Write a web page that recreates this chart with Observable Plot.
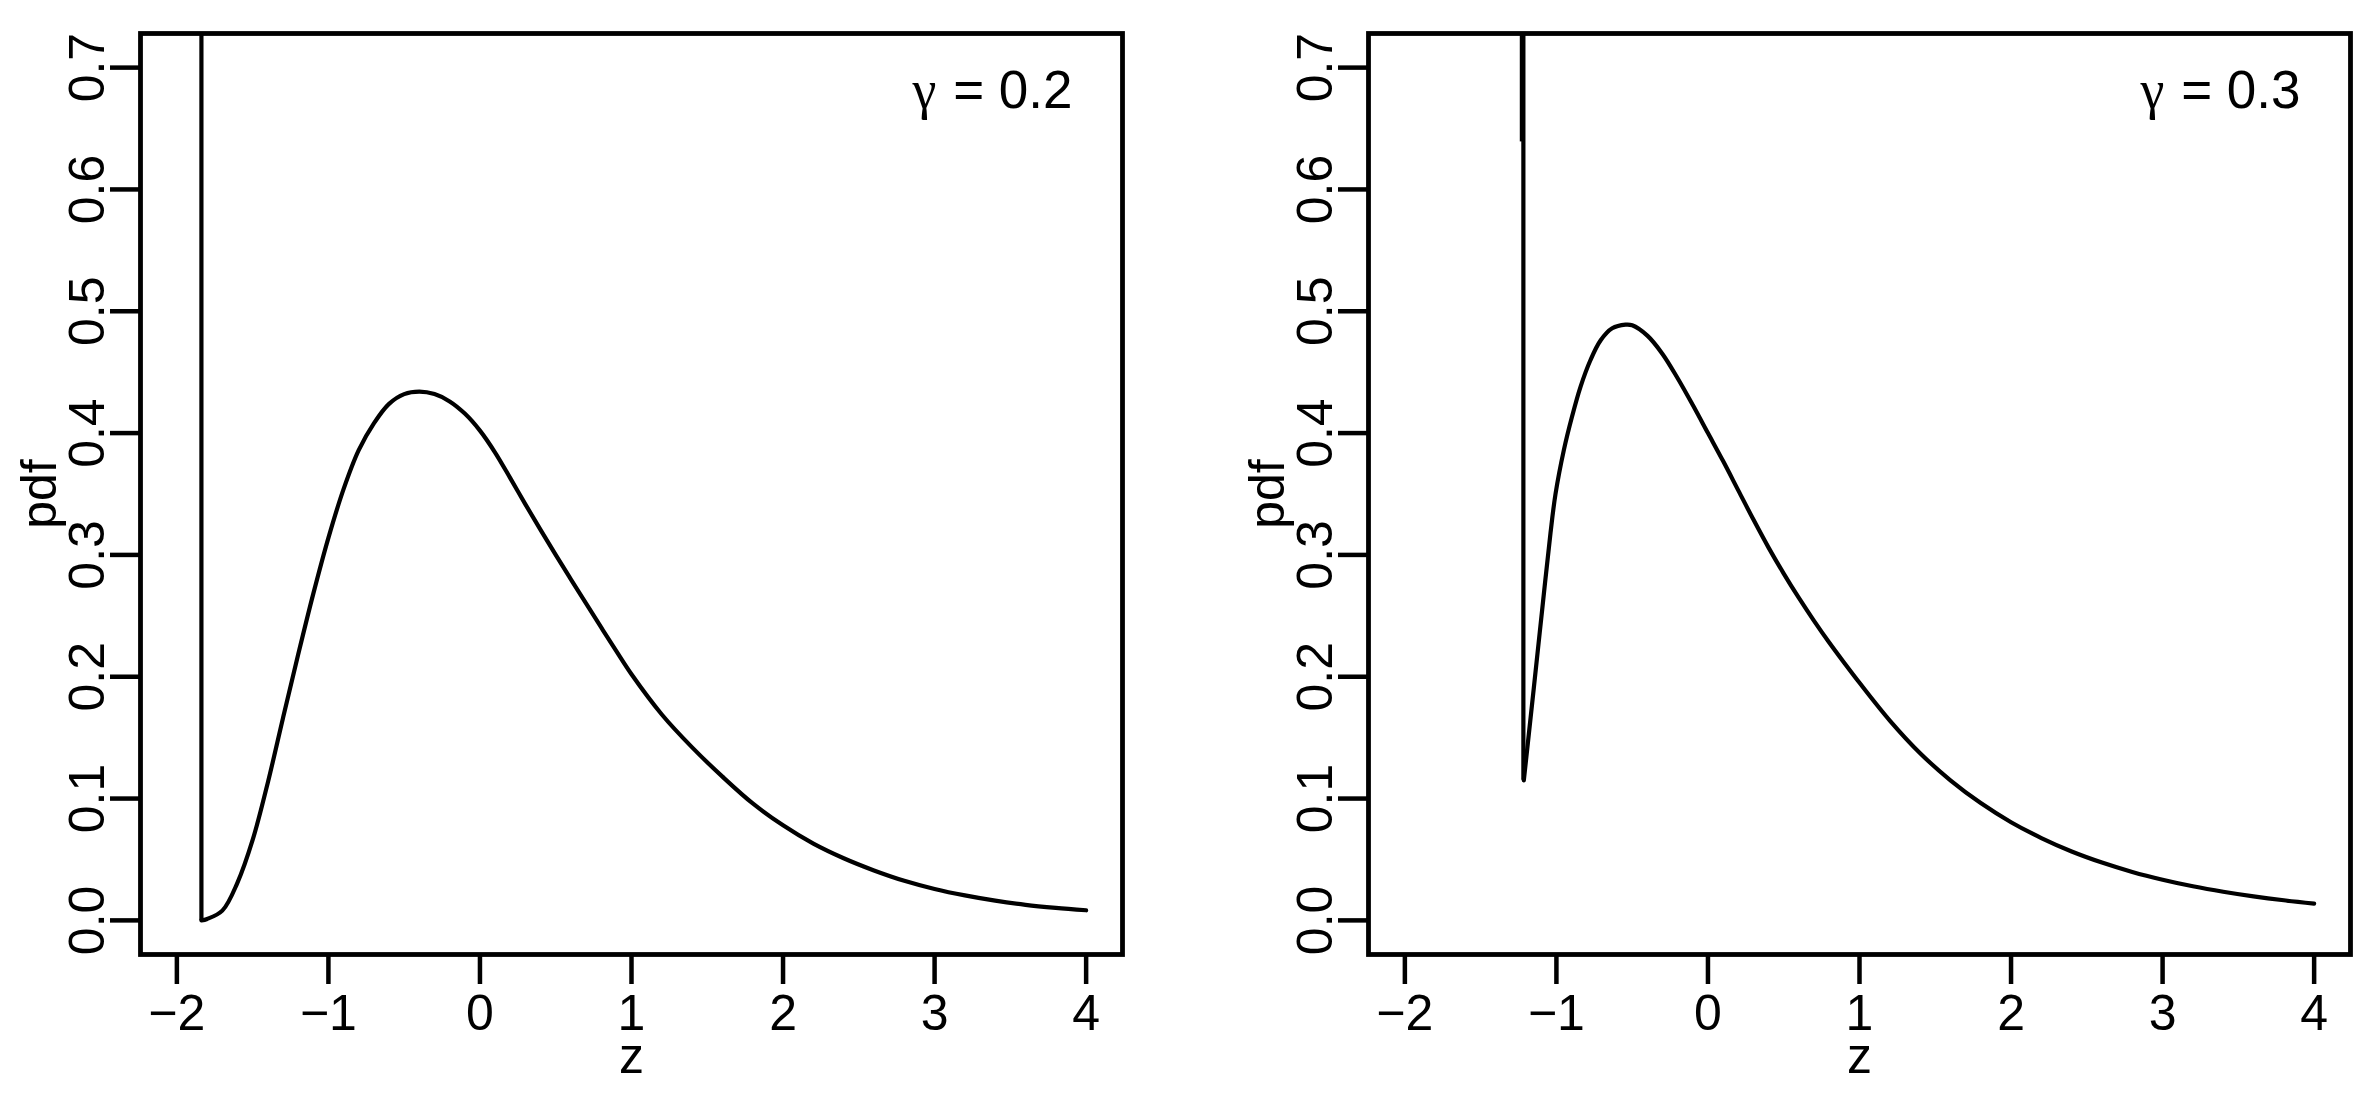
<!DOCTYPE html>
<html>
<head>
<meta charset="utf-8">
<script src="https://cdn.jsdelivr.net/npm/d3@7"></script>
<script src="https://cdn.jsdelivr.net/npm/@observablehq/plot@0.6"></script>
<style>
  html, body { margin: 0; padding: 0; background: #ffffff; }
  #wrap { position: relative; width: 2378px; height: 1114px; overflow: hidden; background: #ffffff; }
  .panel { position: absolute; top: 0; width: 1189px; height: 1114px; }
  .panel svg { display: block; max-width: none !important; }
</style>
</head>
<body>
<div id="wrap">
  <div class="panel" id="panelA" style="left:0px"></div>
  <div class="panel" id="panelB" style="left:1189px"></div>
</div>
<script>
// ---- axis ticks and limits ----
const xTicks = [-2, -1, 0, 1, 2, 3, 4];
const yTicks = [0, 0.1, 0.2, 0.3, 0.4, 0.5, 0.6, 0.7];
const xLim = [-2, 4];
const yLim = [0, 0.7];
const xLabel = "z";
const yLabel = "pdf";

// ---- panel A: gamma = 0.2 ----
const gammaA = 0.2;
const boundA = -1.838;      // vertical line at the lower bound
const boundLowA = 0;        // where the vertical line meets the curve
const zA   = [-1.838, -1.8, -1.7, -1.6, -1.5, -1.4, -1.3, -1.2, -1.1, -1.0, -0.9, -0.8, -0.7, -0.6, -0.5, -0.4, -0.3, -0.2, -0.1, 0.0, 0.1, 0.2, 0.3, 0.4, 0.5, 0.6, 0.7, 0.8, 0.9, 1.0, 1.2, 1.4, 1.6, 1.8, 2.0, 2.2, 2.4, 2.6, 2.8, 3.0, 3.2, 3.4, 3.6, 3.8, 4.0];
const pdfA = [0.0, 0.0012, 0.008, 0.031, 0.066, 0.113, 0.166, 0.218, 0.268, 0.314, 0.354, 0.386, 0.408, 0.424, 0.432, 0.434, 0.432, 0.426, 0.416, 0.402, 0.384, 0.363, 0.3415, 0.3205, 0.300, 0.280, 0.2602, 0.2405, 0.221, 0.202, 0.169, 0.142, 0.118, 0.096, 0.078, 0.063, 0.051, 0.041, 0.0325, 0.0258, 0.0205, 0.0162, 0.0128, 0.0103, 0.0083];

// ---- panel B: gamma = 0.3 ----
const gammaB = 0.3;
const boundB = -1.218;
const boundLowB = 0.115;
const boundOverlapB = 0.639; // upper part where the curve and the bound line overlap
const zB   = [-1.215, -1.149, -1.094, -1.039, -1.006, -0.951, -0.896, -0.841, -0.775, -0.709, -0.632, -0.544, -0.5, -0.4, -0.3, -0.2, -0.1, 0.0, 0.1, 0.2, 0.3, 0.4, 0.5, 0.6, 0.7, 0.8, 0.9, 1.0, 1.2, 1.4, 1.6, 1.8, 2.0, 2.2, 2.4, 2.6, 2.8, 3.0, 3.2, 3.4, 3.6, 3.8, 4.0];
const pdfB = [0.115, 0.191, 0.255, 0.318, 0.350, 0.386, 0.414, 0.438, 0.460, 0.476, 0.486, 0.489, 0.4885, 0.480, 0.465, 0.445, 0.423, 0.400, 0.377, 0.353, 0.329, 0.306, 0.2847, 0.2647, 0.2459, 0.2281, 0.2113, 0.195, 0.164, 0.1372, 0.1150, 0.0963, 0.0806, 0.0676, 0.0566, 0.0475, 0.0398, 0.0334, 0.0280, 0.0235, 0.0197, 0.0165, 0.0138];

// R-style 4% axis extension
function extend([lo, hi]) { const d = (hi - lo) * 0.04; return [lo - d, hi + d]; }
const xDomain = extend(xLim);
const yDomain = extend(yLim);

const FONT = "'Liberation Sans', Arial, Helvetica, sans-serif";
const fmtX = d => (d < 0 ? "\u2212" + Math.abs(d) : String(d));

function panel({z, pdf, bound, boundLow, overlapFrom, gamma, marginLeft, marginRight}) {
  const pts = z.map((v, i) => ({z: v, pdf: pdf[i]}));
  const marks = [
    Plot.axisX(xTicks, {tickSize: 30, tickPadding: 10, fontSize: 50, strokeWidth: 4.5, label: null, tickFormat: fmtX, fill: "black", stroke: "black"}),
    Plot.axisY(yTicks, {tickSize: 30, tickFormat: () => "", label: null, strokeWidth: 4.5, stroke: "black"}),
    Plot.text(yTicks, {y: d => d, text: d => d.toFixed(1), frameAnchor: "left", dx: -37, rotate: -90, lineAnchor: "bottom", textAnchor: "middle", fontSize: 50, fill: "black"}),
    Plot.text([xLabel], {frameAnchor: "bottom", dy: 118, lineAnchor: "bottom", textAnchor: "middle", fontSize: 50, fill: "black"}),
    Plot.text([yLabel], {frameAnchor: "left", dx: -85, rotate: -90, lineAnchor: "bottom", textAnchor: "middle", fontSize: 50, fill: "black"}),
    Plot.ruleX([bound], {x: d => d, y1: boundLow, y2: yDomain[1], stroke: "black", strokeWidth: 4.2}),
  ];
  if (overlapFrom != null) {
    marks.push(Plot.ruleX([bound], {x: d => d, y1: overlapFrom, y2: yDomain[1], dx: -1.5, stroke: "black", strokeWidth: 4.2}));
  }
  marks.push(
    Plot.line(pts, {x: "z", y: "pdf", curve: "catmull-rom", stroke: "black", strokeWidth: 4.2, strokeLinejoin: "round"}),
    Plot.text(["\u03b3"], {frameAnchor: "top-right", dx: -198, dy: 74, lineAnchor: "bottom", textAnchor: "middle", fontSize: 54, fontFamily: "'Liberation Serif', 'DejaVu Serif', serif", fill: "black"}),
    Plot.text([`=\u00a0${gamma.toFixed(1)}`], {frameAnchor: "top-right", dx: -50, dy: 74, lineAnchor: "bottom", textAnchor: "end", fontSize: 53, fill: "black"}),
    Plot.frame({stroke: "black", strokeWidth: 4.8})
  );
  return Plot.plot({
    width: 1189,
    height: 1114,
    marginLeft, marginRight,
    marginTop: 33,
    marginBottom: 160,
    x: {domain: xDomain},
    y: {domain: yDomain},
    style: {fontFamily: FONT, fontSize: "50px", background: "white", color: "black", overflow: "visible"},
    marks
  });
}

document.getElementById("panelA").appendChild(panel({
  z: zA, pdf: pdfA, bound: boundA, boundLow: boundLowA, overlapFrom: null, gamma: gammaA,
  marginLeft: 140, marginRight: 67
}));
document.getElementById("panelB").appendChild(panel({
  z: zB, pdf: pdfB, bound: boundB, boundLow: boundLowB, overlapFrom: boundOverlapB, gamma: gammaB,
  marginLeft: 179, marginRight: 28
}));
</script>
</body>
</html>
